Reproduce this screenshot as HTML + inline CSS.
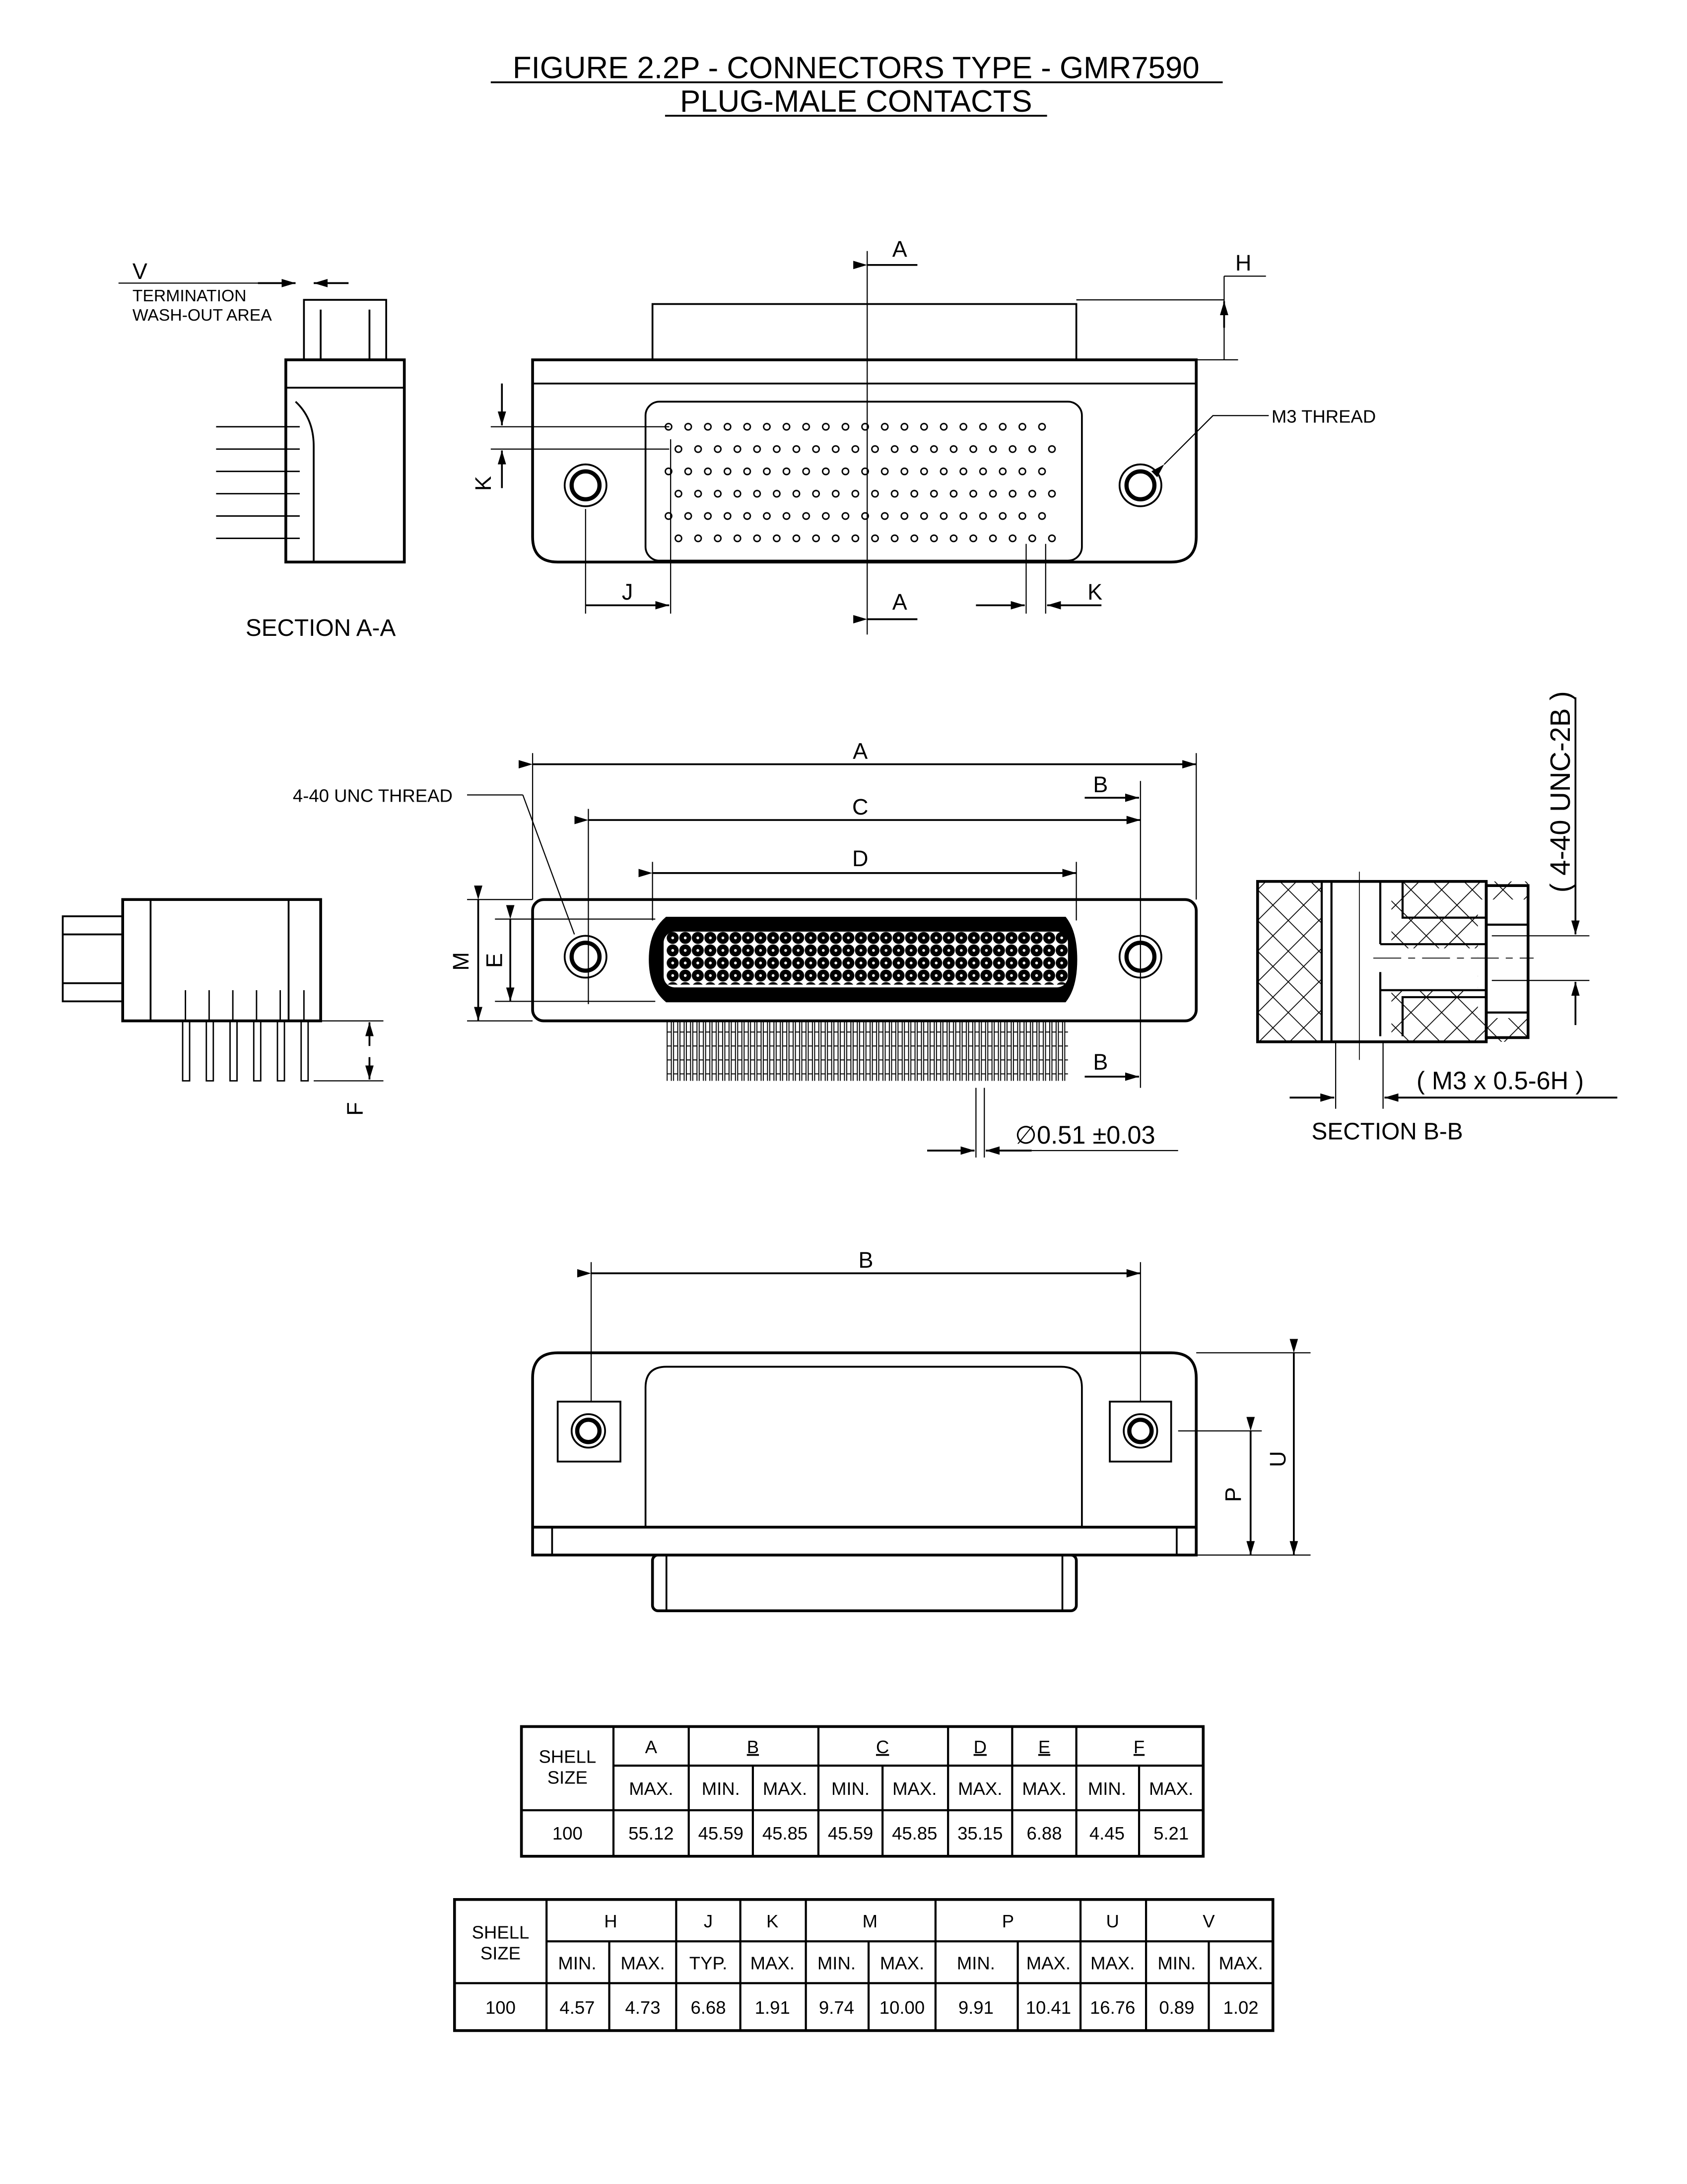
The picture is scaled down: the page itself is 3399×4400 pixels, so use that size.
<!DOCTYPE html>
<html><head><meta charset="utf-8"><style>
html,body{margin:0;padding:0;background:#fff}
svg{display:block}
text{font-family:"Liberation Sans",sans-serif;fill:#000}
</style></head><body>
<svg width="3399" height="4400" viewBox="0 0 1210 1566" preserveAspectRatio="none" xmlns="http://www.w3.org/2000/svg">
<defs>
<marker id="ar" markerWidth="10" markerHeight="6" refX="10" refY="3" orient="auto" markerUnits="userSpaceOnUse"><path d="M0,0L10,3L0,6z"/></marker>
<pattern id="pg" x="476" y="298" width="14.1" height="32" patternUnits="userSpaceOnUse">
<circle cx="3.5" cy="8" r="2.3" fill="none" stroke="#000" stroke-width="1"/>
<circle cx="10.6" cy="24" r="2.3" fill="none" stroke="#000" stroke-width="1"/></pattern>
<pattern id="dp" x="478" y="668" width="9" height="9" patternUnits="userSpaceOnUse">
<circle cx="4.5" cy="4.5" r="4.3" fill="#000"/><circle cx="4.5" cy="4.5" r="1" fill="#fff"/></pattern>
<pattern id="ld" x="478" y="0" width="4.6" height="10" patternUnits="userSpaceOnUse">
<rect x="0.5" y="0" width="3" height="10" fill="none" stroke="#000" stroke-width="0.7"/></pattern>
<pattern id="hx" width="22" height="22" patternUnits="userSpaceOnUse">
<path d="M0,0L22,22M22,0L0,22" stroke="#000" stroke-width="0.6"/></pattern>
</defs>
<g fill="none" stroke="#000" stroke-width="1.3">
<text x="614" y="56" font-size="22" text-anchor="middle" stroke="none">FIGURE 2.2P - CONNECTORS TYPE - GMR7590</text>
<line x1="352" y1="59" x2="877" y2="59"/>
<text x="614" y="80" font-size="22" text-anchor="middle" stroke="none">PLUG-MALE CONTACTS</text>
<line x1="477" y1="83" x2="751" y2="83"/>

<rect x="468" y="218" width="304" height="40"/>
<path d="M382,258H858V385Q858,403 840,403H400Q382,403 382,385Z" stroke-width="2"/>
<line x1="382" y1="275" x2="858" y2="275"/>
<rect x="463" y="288" width="313" height="114" rx="10"/>
<rect x="476" y="298" width="282" height="96" fill="url(#pg)" stroke="none"/>
<circle cx="420" cy="348" r="15"/><circle cx="420" cy="348" r="10" stroke-width="3"/>
<circle cx="818" cy="348" r="15"/><circle cx="818" cy="348" r="10" stroke-width="3"/>
<line x1="622" y1="180" x2="622" y2="455" stroke-width="0.8"/>
<line x1="622" y1="190" x2="658" y2="190" marker-start="url(#ar)"/><text x="640" y="184" font-size="16" stroke="none">A</text>
<line x1="622" y1="444" x2="658" y2="444" marker-start="url(#ar)"/><text x="640" y="437" font-size="16" stroke="none">A</text>
<line x1="772" y1="215" x2="878" y2="215" stroke-width="0.8"/><line x1="858" y1="258" x2="888" y2="258" stroke-width="0.8"/>
<line x1="878" y1="198" x2="878" y2="258" stroke-width="0.8"/><line x1="878" y1="198" x2="908" y2="198" stroke-width="0.8"/>
<line x1="878" y1="235" x2="878" y2="216" marker-end="url(#ar)"/><text x="886" y="194" font-size="16" stroke="none">H</text>
<path d="M835,333L870,298H910" stroke-width="0.8" marker-start="url(#ar)"/><text x="912" y="303" font-size="13" stroke="none">M3 THREAD</text>
<line x1="352" y1="306" x2="480" y2="306" stroke-width="0.8"/><line x1="352" y1="322" x2="480" y2="322" stroke-width="0.8"/>
<line x1="360" y1="275" x2="360" y2="305" marker-end="url(#ar)"/><line x1="360" y1="350" x2="360" y2="323" marker-end="url(#ar)"/>
<text x="352" y="352" font-size="16" stroke="none" transform="rotate(-90 352 352)">K</text>
<line x1="420" y1="365" x2="420" y2="440" stroke-width="0.8"/><line x1="481" y1="315" x2="481" y2="440" stroke-width="0.8"/>
<line x1="420" y1="434" x2="480" y2="434" marker-end="url(#ar)"/><text x="446" y="430" font-size="16" stroke="none">J</text>
<line x1="736" y1="390" x2="736" y2="440" stroke-width="0.8"/><line x1="750" y1="390" x2="750" y2="440" stroke-width="0.8"/>
<line x1="700" y1="434" x2="735" y2="434" marker-end="url(#ar)"/><line x1="790" y1="434" x2="751" y2="434" marker-end="url(#ar)"/>
<text x="780" y="430" font-size="16" stroke="none">K</text>

<rect x="218" y="215" width="59" height="43"/><line x1="230" y1="222" x2="230" y2="258"/><line x1="265" y1="222" x2="265" y2="258"/>
<rect x="205" y="258" width="85" height="145" stroke-width="2"/><line x1="205" y1="278" x2="290" y2="278"/>
<path d="M212,288Q225,300 225,320V403" />
<g stroke-width="1"><path d="M155,306H215M155,322H215M155,338H215M155,354H215M155,370H215M155,386H215"/></g>
<text x="95" y="200" font-size="16" stroke="none">V</text><line x1="85" y1="203" x2="210" y2="203" stroke-width="0.8"/>
<line x1="185" y1="203" x2="212" y2="203" marker-end="url(#ar)"/><line x1="250" y1="203" x2="225" y2="203" marker-end="url(#ar)"/>
<text x="95" y="216" font-size="12" stroke="none">TERMINATION</text><text x="95" y="230" font-size="12" stroke="none">WASH-OUT AREA</text>
<text x="230" y="456" font-size="17" stroke="none" text-anchor="middle">SECTION A-A</text>

<rect x="382" y="645" width="476" height="87" rx="8" stroke-width="2"/>
<path d="M478,658H764Q772,668 772,688Q772,708 764,718H478Q466,708 466,688Q466,668 478,658Z" fill="#000"/>
<rect x="476" y="668" width="290" height="40" rx="8" fill="#fff" stroke="none"/>
<rect x="478" y="668" width="288" height="38" fill="url(#dp)" stroke="none"/>
<rect x="478" y="732" width="288" height="43" fill="url(#ld)" stroke="none"/>
<circle cx="420" cy="686" r="15"/><circle cx="420" cy="686" r="10" stroke-width="3"/>
<circle cx="818" cy="686" r="15"/><circle cx="818" cy="686" r="10" stroke-width="3"/>
<g stroke-width="0.8">
<line x1="382" y1="540" x2="382" y2="645"/><line x1="858" y1="540" x2="858" y2="645"/>
<line x1="422" y1="580" x2="422" y2="720"/><line x1="818" y1="560" x2="818" y2="780"/>
<line x1="468" y1="618" x2="468" y2="660"/><line x1="772" y1="618" x2="772" y2="660"/>
<line x1="335" y1="645" x2="382" y2="645"/><line x1="335" y1="732" x2="382" y2="732"/>
<line x1="355" y1="659" x2="470" y2="659"/><line x1="355" y1="718" x2="470" y2="718"/>
<line x1="700" y1="780" x2="700" y2="830"/><line x1="706" y1="780" x2="706" y2="830"/>
<path d="M375,570H335M375,570L412,670"/>
</g>
<line x1="382" y1="548" x2="858" y2="548" marker-start="url(#ar)" marker-end="url(#ar)"/><text x="617" y="544" font-size="16" stroke="none" text-anchor="middle">A</text>
<line x1="422" y1="588" x2="818" y2="588" marker-start="url(#ar)" marker-end="url(#ar)"/><text x="617" y="584" font-size="16" stroke="none" text-anchor="middle">C</text>
<line x1="468" y1="626" x2="772" y2="626" marker-start="url(#ar)" marker-end="url(#ar)"/><text x="617" y="621" font-size="16" stroke="none" text-anchor="middle">D</text>
<line x1="778" y1="572" x2="817" y2="572" marker-end="url(#ar)"/><text x="784" y="568" font-size="16" stroke="none">B</text>
<line x1="778" y1="772" x2="817" y2="772" marker-end="url(#ar)"/><text x="784" y="767" font-size="16" stroke="none">B</text>
<line x1="343" y1="645" x2="343" y2="732" marker-start="url(#ar)" marker-end="url(#ar)"/><text x="336" y="696" font-size="16" stroke="none" transform="rotate(-90 336 696)">M</text>
<line x1="366" y1="659" x2="366" y2="718" marker-start="url(#ar)" marker-end="url(#ar)"/><text x="360" y="694" font-size="16" stroke="none" transform="rotate(-90 360 694)">E</text>
<text x="210" y="575" font-size="13" stroke="none">4-40 UNC THREAD</text>
<line x1="665" y1="825" x2="699" y2="825" marker-end="url(#ar)"/><line x1="740" y1="825" x2="707" y2="825" marker-end="url(#ar)"/><line x1="740" y1="825" x2="845" y2="825" stroke-width="0.8"/>
<text x="728" y="820" font-size="18" stroke="none">∅0.51 ±0.03</text>

<rect x="45" y="657" width="43" height="61"/><line x1="45" y1="670" x2="88" y2="670"/><line x1="45" y1="705" x2="88" y2="705"/>
<rect x="88" y="645" width="142" height="87" stroke-width="2"/><line x1="108" y1="645" x2="108" y2="732"/><line x1="207" y1="645" x2="207" y2="732"/>
<g stroke-width="1"><path d="M131,732V775H136V732M148,732V775H153V732M165,732V775H170V732M182,732V775H187V732M199,732V775H204V732M216,732V775H221V732"/>
<path d="M133,710V732M150,710V732M167,710V732M184,710V732M201,710V732M218,710V732"/></g>
<g stroke-width="0.8"><line x1="225" y1="732" x2="275" y2="732"/><line x1="225" y1="775" x2="275" y2="775"/></g>
<line x1="265" y1="750" x2="265" y2="733" marker-end="url(#ar)"/><line x1="265" y1="758" x2="265" y2="774" marker-end="url(#ar)"/>
<text x="260" y="800" font-size="16" stroke="none" transform="rotate(-90 260 800)">F</text>

<rect x="902" y="632" width="194" height="115" fill="url(#hx)" stroke="none"/>
<rect x="948" y="632" width="50" height="115" fill="#fff" stroke="none"/>
<rect x="1060" y="645" width="36" height="85" fill="#fff" stroke="none"/>
<rect x="990" y="680" width="70" height="30" fill="#fff" stroke="none"/>
<rect x="902" y="632" width="164" height="115" stroke-width="2"/>
<rect x="1066" y="635" width="30" height="109" stroke-width="2"/>
<path d="M948,632V747M955,632V747M990,632V677M990,697V743M1006,632V658H1066M1006,743V715H1066M990,677H1066M990,710H1066M1066,663H1096M1066,726H1096" stroke-width="1.5"/>
<line x1="975" y1="625" x2="975" y2="760" stroke-width="0.6"/><line x1="985" y1="687" x2="1100" y2="687" stroke-width="0.6" stroke-dasharray="20,5,5,5"/>
<g stroke-width="0.8"><line x1="1070" y1="671" x2="1140" y2="671"/><line x1="1070" y1="703" x2="1140" y2="703"/><line x1="958" y1="747" x2="958" y2="795"/><line x1="992" y1="747" x2="992" y2="795"/></g>
<line x1="1130" y1="500" x2="1130" y2="670" marker-end="url(#ar)"/><line x1="1130" y1="735" x2="1130" y2="704" marker-end="url(#ar)"/>
<text x="1126" y="640" font-size="20" stroke="none" transform="rotate(-90 1126 640)">( 4-40 UNC-2B )</text>
<line x1="925" y1="787" x2="957" y2="787" marker-end="url(#ar)"/><line x1="1160" y1="787" x2="993" y2="787" marker-end="url(#ar)"/>
<text x="1016" y="781" font-size="18" stroke="none">( M3 x 0.5-6H )</text>
<text x="995" y="817" font-size="17" stroke="none" text-anchor="middle">SECTION B-B</text>

<path d="M400,970H840Q858,970 858,988V1115H382V988Q382,970 400,970Z" stroke-width="2"/>
<line x1="382" y1="1095" x2="858" y2="1095" stroke-width="2"/>
<line x1="396" y1="1095" x2="396" y2="1115"/><line x1="844" y1="1095" x2="844" y2="1115"/>
<path d="M463,1095V995Q463,980 478,980H761Q776,980 776,995V1095"/>
<rect x="468" y="1115" width="304" height="40" rx="4" stroke-width="2"/><line x1="478" y1="1115" x2="478" y2="1155"/><line x1="762" y1="1115" x2="762" y2="1155"/>
<rect x="400" y="1005" width="45" height="43"/><circle cx="422" cy="1026" r="12"/><circle cx="422" cy="1026" r="8" stroke-width="3"/>
<rect x="796" y="1005" width="44" height="43"/><circle cx="818" cy="1026" r="12"/><circle cx="818" cy="1026" r="8" stroke-width="3"/>
<g stroke-width="0.8"><line x1="424" y1="905" x2="424" y2="1005"/><line x1="818" y1="905" x2="818" y2="1005"/>
<line x1="858" y1="970" x2="940" y2="970"/><line x1="858" y1="1115" x2="940" y2="1115"/><line x1="845" y1="1026" x2="905" y2="1026"/></g>
<line x1="424" y1="913" x2="818" y2="913" marker-start="url(#ar)" marker-end="url(#ar)"/><text x="621" y="909" font-size="16" stroke="none" text-anchor="middle">B</text>
<line x1="928" y1="970" x2="928" y2="1115" marker-start="url(#ar)" marker-end="url(#ar)"/><text x="922" y="1052" font-size="16" stroke="none" transform="rotate(-90 922 1052)">U</text>
<line x1="897" y1="1026" x2="897" y2="1115" marker-start="url(#ar)" marker-end="url(#ar)"/><text x="890" y="1077" font-size="16" stroke="none" transform="rotate(-90 890 1077)">P</text>
</g>

<g fill="none" stroke="#000" stroke-width="2">
<rect x="374" y="1238" width="489" height="93"/>
<path d="M440,1266H863M440,1298H863M440,1238V1331M494,1238V1331M587,1238V1331M680,1238V1331M726,1238V1331M772,1238V1331" stroke-width="1.5"/>
<path d="M374,1298H440M540,1266V1331M633,1266V1331M817,1266V1331" stroke-width="1.5"/>
</g>
<g font-size="13" text-anchor="middle" font-family="Liberation Sans,sans-serif">
<text x="407" y="1264">SHELL</text><text x="407" y="1279">SIZE</text>
<text x="467" y="1257">A</text><text x="540" y="1257" text-decoration="underline">B</text><text x="633" y="1257" text-decoration="underline">C</text><text x="703" y="1257" text-decoration="underline">D</text><text x="749" y="1257" text-decoration="underline">E</text><text x="817" y="1257" text-decoration="underline">F</text>
<text x="467" y="1287">MAX.</text><text x="517" y="1287">MIN.</text><text x="563" y="1287">MAX.</text><text x="610" y="1287">MIN.</text><text x="656" y="1287">MAX.</text><text x="703" y="1287">MAX.</text><text x="749" y="1287">MAX.</text><text x="794" y="1287">MIN.</text><text x="840" y="1287">MAX.</text>
<text x="407" y="1319">100</text><text x="467" y="1319">55.12</text><text x="517" y="1319">45.59</text><text x="563" y="1319">45.85</text><text x="610" y="1319">45.59</text><text x="656" y="1319">45.85</text><text x="703" y="1319">35.15</text><text x="749" y="1319">6.88</text><text x="794" y="1319">4.45</text><text x="840" y="1319">5.21</text>
</g>

<g fill="none" stroke="#000" stroke-width="2">
<rect x="326" y="1362" width="587" height="94"/>
<path d="M392,1392H913M326,1422H913M392,1362V1456M485,1362V1456M531,1362V1456M578,1362V1456M671,1362V1456M775,1362V1456M822,1362V1456" stroke-width="1.5"/>
<path d="M437,1392V1456M623,1392V1456M730,1392V1456M867,1392V1456" stroke-width="1.5"/>
</g>
<g font-size="13" text-anchor="middle" font-family="Liberation Sans,sans-serif">
<text x="359" y="1390">SHELL</text><text x="359" y="1405">SIZE</text>
<text x="438" y="1382">H</text><text x="508" y="1382">J</text><text x="554" y="1382">K</text><text x="624" y="1382">M</text><text x="723" y="1382">P</text><text x="798" y="1382">U</text><text x="867" y="1382">V</text>
<text x="414" y="1412">MIN.</text><text x="461" y="1412">MAX.</text><text x="508" y="1412">TYP.</text><text x="554" y="1412">MAX.</text><text x="600" y="1412">MIN.</text><text x="647" y="1412">MAX.</text><text x="700" y="1412">MIN.</text><text x="752" y="1412">MAX.</text><text x="798" y="1412">MAX.</text><text x="844" y="1412">MIN.</text><text x="890" y="1412">MAX.</text>
<text x="359" y="1444">100</text><text x="414" y="1444">4.57</text><text x="461" y="1444">4.73</text><text x="508" y="1444">6.68</text><text x="554" y="1444">1.91</text><text x="600" y="1444">9.74</text><text x="647" y="1444">10.00</text><text x="700" y="1444">9.91</text><text x="752" y="1444">10.41</text><text x="798" y="1444">16.76</text><text x="844" y="1444">0.89</text><text x="890" y="1444">1.02</text>
</g>
</svg>
</body></html>
